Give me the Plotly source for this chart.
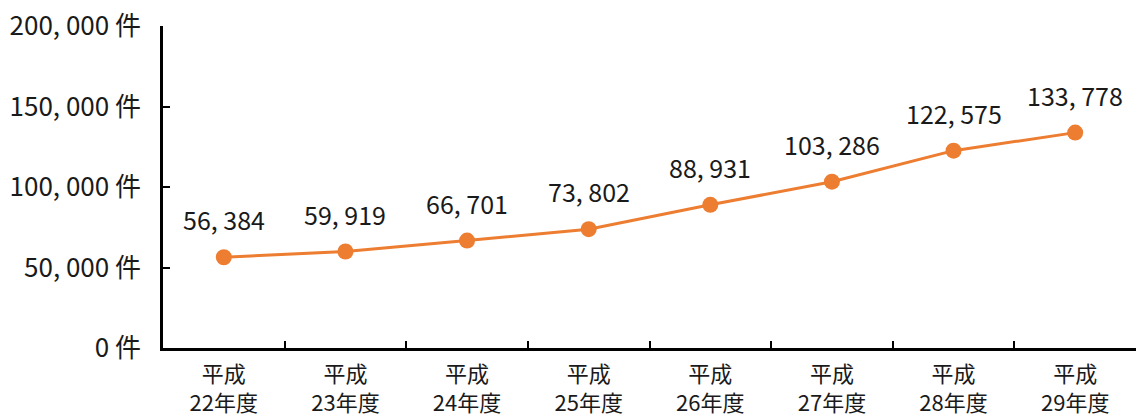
import plotly.graph_objects as go

categories = ["平成<br>22年度", "平成<br>23年度", "平成<br>24年度", "平成<br>25年度",
              "平成<br>26年度", "平成<br>27年度", "平成<br>28年度", "平成<br>29年度"]
values = [56384, 59919, 66701, 73802, 88931, 103286, 122575, 133778]
y_ticks = [0, 50000, 100000, 150000, 200000]
y_ticktext = ["0 件", "50, 000 件", "100, 000 件", "150, 000 件", "200, 000 件"]

def fmt(v):
    return f"{v:,}".replace(",", ", ")

FONT = "Noto Sans CJK JP, sans-serif"
ORANGE = "#ED7D31"
TXT = "#1a1a1a"

fig = go.Figure()
fig.add_trace(go.Scatter(
    x=categories, y=values, mode="lines+markers",
    line=dict(color=ORANGE, width=3),
    marker=dict(color=ORANGE, size=16),
    hoverinfo="skip", showlegend=False,
))
for c, v in zip(categories, values):
    fig.add_annotation(x=c, y=v, text=fmt(v), showarrow=False, yshift=38,
                       font=dict(family=FONT, size=25, color=TXT))

fig.update_layout(
    width=1141, height=418,
    margin=dict(l=163, r=5, t=26, b=70),
    paper_bgcolor="white", plot_bgcolor="white",
    font=dict(family=FONT, size=24, color=TXT),
)
fig.update_xaxes(
    type="category", tickson="boundaries", ticks="inside", ticklen=7,
    tickcolor="black", tickwidth=2, automargin=False,
    showline=True, linecolor="black", linewidth=2.5, showgrid=False,
    tickfont=dict(family=FONT, size=22), ticklabelstandoff=5,
    range=[-0.5, 7.5], fixedrange=True,
)
fig.update_yaxes(
    range=[0, 200000], tickvals=y_ticks, ticktext=y_ticktext,
    ticks="inside", ticklen=7, tickcolor="black", tickwidth=2,
    showline=True, linecolor="black", linewidth=2.5, showgrid=False,
    zeroline=False, ticklabelstandoff=14, automargin=False,
    tickfont=dict(family=FONT, size=26),
)
fig.write_html("out.html", config={"displayModeBar": False},
               post_script="document.body.style.margin='0';")
